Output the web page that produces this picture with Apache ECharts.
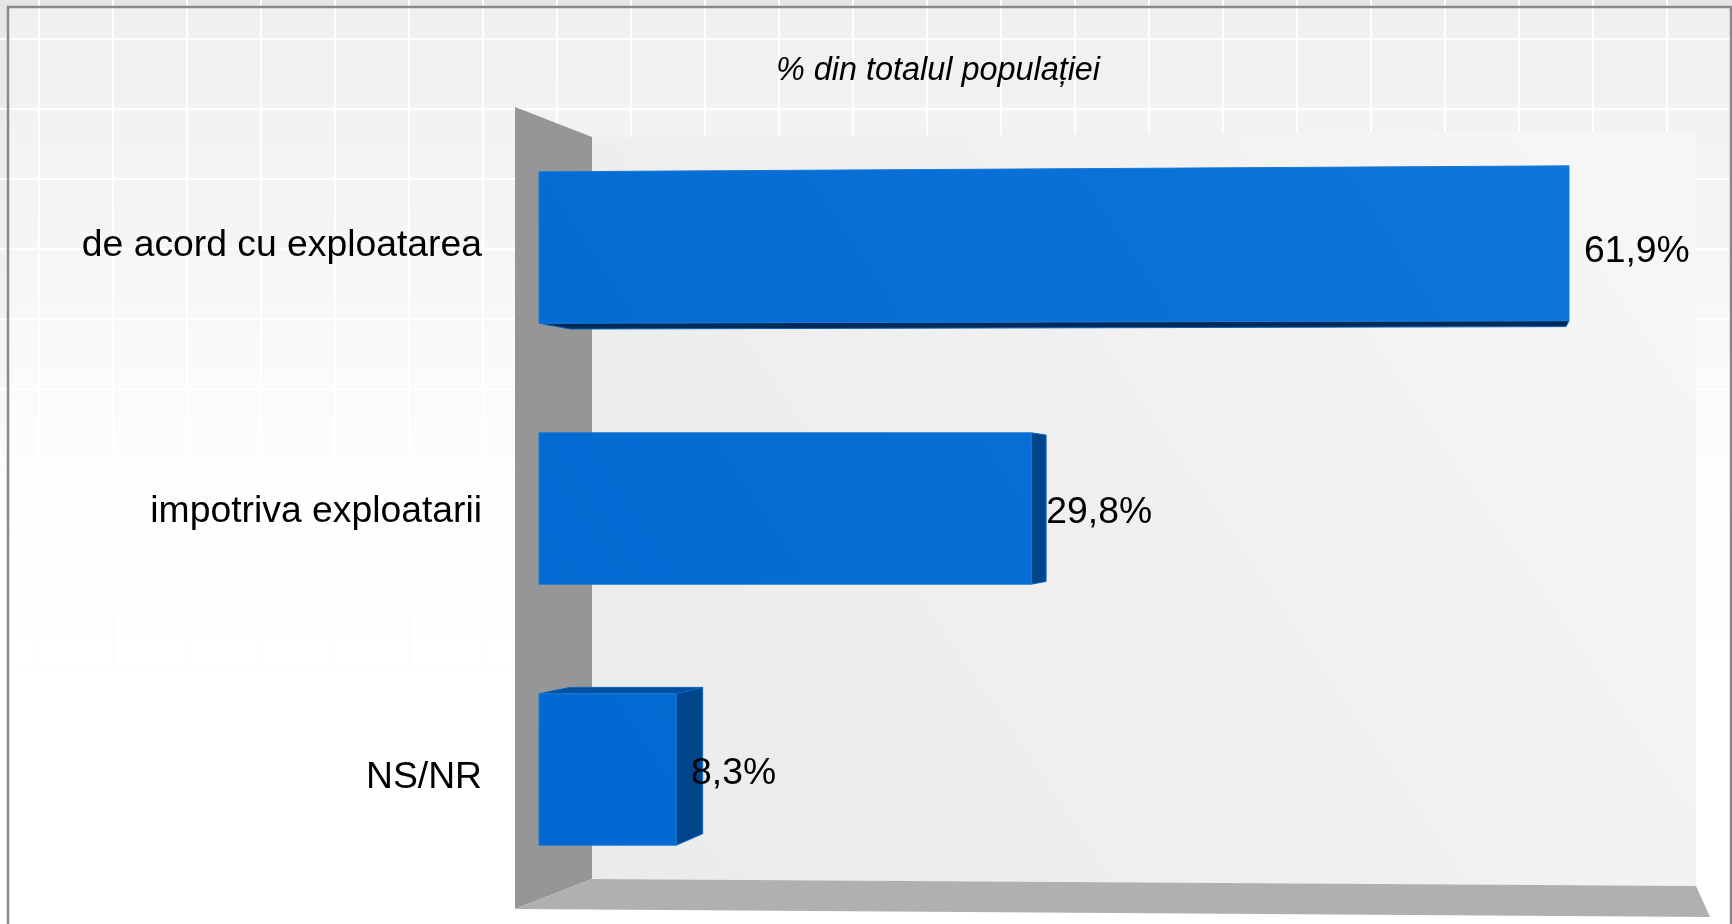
<!DOCTYPE html>
<html>
<head>
<meta charset="utf-8">
<style>html,body{margin:0;padding:0;background:#fff}#c{width:1732px;height:924px}</style>
<script src="https://cdn.jsdelivr.net/npm/echarts@6/dist/echarts.min.js"></script>
</head>
<body>
<div id="c"></div>
<script>
const categories = ['de acord cu exploatarea', 'impotriva exploatarii', 'NS/NR'];
const values = [61.9, 29.8, 8.3];
const chartTitle = '% din totalul populației';

const FONT = '"Liberation Sans", Arial, sans-serif';
const VP = [1480, 500], DEPTH = 0.033, ORIGIN = 539, FLAT_Y = 433;

function skew(x, y, yc) {
  return [
    x + (x - ORIGIN) * Math.max(0, FLAT_Y - yc) * 3.9e-5,
    y - (x - ORIGIN) * Math.max(0, FLAT_Y - y) * 2.23e-5
  ];
}
function back(p) {
  return [p[0] + (VP[0] - p[0]) * DEPTH, p[1] + (VP[1] - p[1]) * DEPTH];
}
const frontFill = new echarts.graphic.LinearGradient(539, 845, 1569, 166, [
  { offset: 0, color: '#0068d0' }, { offset: 1, color: '#0e75dc' }
], true);

function face(pts, fill, stroke) {
  return { type: 'polygon', shape: { points: pts },
           style: { fill: fill, stroke: stroke || fill, lineWidth: 1 } };
}

function renderBar(params, api) {
  const end = api.coord([api.value(0), api.value(1)]);
  const start = api.coord([0, api.value(1)]);
  const h = api.size([0, 1])[1] * 0.58;
  const yc = end[1], t = yc - h / 2, b = yc + h / 2;
  const tl = skew(start[0], t, yc), tr = skew(end[0], t, yc);
  const bl = skew(start[0], b, yc), br = skew(end[0], b, yc);
  const btl = back(tl), btr = back(tr), bbl = back(bl), bbr = back(br);
  const kids = [];
  if (br[1] < VP[1]) kids.push(face([bl, br, bbr, bbl], '#002b57', '#0a5fb8'));
  if (tr[1] > VP[1]) kids.push(face([tl, tr, btr, btl], '#00509f', '#0862c4'));
  if (tr[0] < VP[0]) kids.push(face([tr, br, bbr, btr], '#00448a', '#0a66c8'));
  kids.push(face([tl, tr, br, bl], frontFill, '#1a78d8'));
  kids.push({ type: 'text', z2: 50, style: {
    text: api.value(0).toFixed(1).replace('.', ',') + '%',
    x: tr[0] + 15, y: yc + 4, fill: '#000', font: '37.3px ' + FONT,
    textAlign: 'left', textVerticalAlign: 'middle' } });
  return { type: 'group', children: kids };
}

const decor = [];
decor.push({ type: 'rect', shape: { x: 0, y: 0, width: 1732, height: 924 },
  style: { fill: new echarts.graphic.LinearGradient(0, 0, 0, 1, [
    { offset: 0, color: '#e6e6e4' }, { offset: 0.3, color: '#f0f0ee' }, { offset: 0.56, color: '#fefefe' }, { offset: 1, color: '#ffffff' }
  ]) } });
decor.push({ type: 'rect', shape: { x: 8, y: 7, width: 1724, height: 917 },
  style: { fill: new echarts.graphic.LinearGradient(0, 0, 0, 1, [
    { offset: 0, color: '#f0f0ee' }, { offset: 0.25, color: '#f5f5f4' }, { offset: 0.42, color: '#fbfbfb' }, { offset: 0.56, color: '#fefefe' }, { offset: 0.72, color: '#ffffff' }, { offset: 1, color: '#ffffff' }
  ]) } });
for (let x = 39; x < 1732; x += 74) {
  decor.push({ type: 'line', shape: { x1: x, y1: 0, x2: x, y2: 520 }, style: { stroke: '#ffffff', lineWidth: 2 } });
  decor.push({ type: 'line', shape: { x1: x, y1: 520, x2: x, y2: 665 }, style: { stroke: '#fafafa', lineWidth: 1 } });
}
for (let y = 39; y < 520; y += 70) {
  decor.push({ type: 'line', shape: { x1: 0, y1: y, x2: 1732, y2: y }, style: { stroke: '#ffffff', lineWidth: 2 } });
}
for (let y = 529; y < 670; y += 70) {
  decor.push({ type: 'line', shape: { x1: 10, y1: y, x2: 515, y2: y }, style: { stroke: '#fafafa', lineWidth: 1 } });
}
decor.push({ type: 'polyline', shape: { points: [[8, 924], [8, 7], [1731, 7], [1731, 924]] },
  style: { stroke: '#8a8a8a', lineWidth: 2.5, fill: null } });
decor.push({ type: 'polygon', shape: { points: [[592, 137], [1696, 131], [1696, 886], [592, 879]] },
  style: { fill: new echarts.graphic.LinearGradient(592, 879, 1696, 131, [
    { offset: 0, color: '#ebebeb' }, { offset: 0.5, color: '#f0f0f0' }, { offset: 1, color: '#f7f7f7' }
  ], true) } });
decor.push({ type: 'polygon', shape: { points: [[515, 107], [592, 137], [592, 879], [515, 909]] },
  style: { fill: '#969696' } });
decor.push({ type: 'polygon', shape: { points: [[515, 909], [592, 879], [1696, 886], [1710, 917]] },
  style: { fill: '#b0b0b0' } });

const chart = echarts.init(document.getElementById('c'), null, { renderer: 'canvas' });
chart.setOption({
  backgroundColor: '#ffffff',
  animation: false,
  graphic: { elements: decor },
  title: {
    text: chartTitle, left: 933, top: 50, textAlign: 'center',
    textStyle: { fontFamily: FONT, fontSize: 32.4, fontStyle: 'italic', fontWeight: 'normal', color: '#000' }
  },
  grid: [
    { left: ORIGIN, top: 117, width: 1156.4, height: 783 },
    { left: ORIGIN, top: 113, width: 1156.4, height: 798 }
  ],
  xAxis: [
    { type: 'value', gridIndex: 0, min: 0, max: 70, show: false },
    { type: 'value', gridIndex: 1, min: 0, max: 70, show: false }
  ],
  yAxis: [
    { type: 'category', gridIndex: 0, data: categories, inverse: true, show: false },
    { type: 'category', gridIndex: 1, data: categories, inverse: true,
      axisLine: { show: false }, axisTick: { show: false }, splitLine: { show: false },
      axisLabel: { margin: 57, fontFamily: FONT, fontSize: 37.3, color: '#000' } }
  ],
  series: [{
    type: 'custom', xAxisIndex: 0, yAxisIndex: 0, coordinateSystem: 'cartesian2d',
    renderItem: renderBar,
    clip: false,
    encode: { x: 0, y: 1 },
    data: values.map((v, i) => [v, i])
  }]
});
</script>
</body>
</html>
